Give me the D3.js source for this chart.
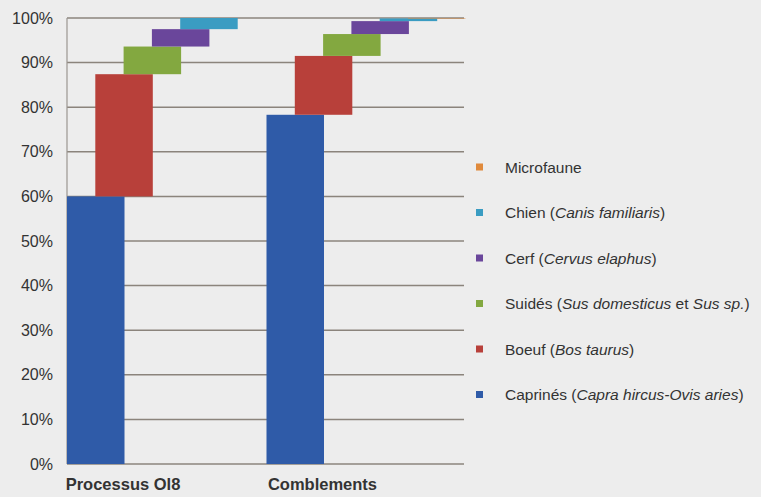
<!DOCTYPE html>
<html>
<head>
<meta charset="utf-8">
<script src="https://cdn.jsdelivr.net/npm/d3@7"></script>
<style>
  body { margin: 0; background: #ededed; }
  svg { display: block; font-family: "Liberation Sans", Arial, sans-serif; }
</style>
</head>
<body>
<div id="chart"></div>
<script>
// categories and series
const categories = ["Processus Ol8", "Comblements"];
const series = ["Caprinés", "Boeuf", "Suidés", "Cerf", "Chien", "Microfaune"];
const colors = ["#2f5ba8", "#b8403a", "#83a840", "#6a469b", "#3a9cc2", "#e08a3c"];

// share of each taxon (fraction), per category
const caprines   = [0.600, 0.783];
const boeuf      = [0.274, 0.132];
const suides     = [0.062, 0.049];
const cerf       = [0.039, 0.029];
const chien      = [0.025, 0.006];
const microfaune = [0.000, 0.001];

const yTicks = [0, 0.1, 0.2, 0.3, 0.4, 0.5, 0.6, 0.7, 0.8, 0.9, 1];

// legend labels: [normal, italic, normal, italic, ...]
const legendLabels = [
  ["Microfaune"],
  ["Chien (", "Canis familiaris", ")"],
  ["Cerf (", "Cervus elaphus", ")"],
  ["Suidés (", "Sus domesticus", " et ", "Sus sp.", ")"],
  ["Boeuf (", "Bos taurus", ")"],
  ["Caprinés (", "Capra hircus-Ovis aries", ")"]
];

const values = [caprines, boeuf, suides, cerf, chien, microfaune];

const width = 761, height = 497;
const plot = {left: 67, right: 464, top: 18, bottom: 464};
const barW = 57.5, shift = 28.3;

const svg = d3.select("#chart")
  .append("svg")
    .attr("width", width)
    .attr("height", height);

const x = d3.scaleBand()
  .domain(categories)
  .range([plot.left, plot.left + 2 * 199.5])
  .padding(0);

const y = d3.scaleLinear()
  .domain([0, 1])
  .range([plot.bottom, plot.top]);

// gridlines
svg.append("g")
  .selectAll("line")
  .data(yTicks)
  .join("line")
    .attr("x1", plot.left)
    .attr("x2", plot.right)
    .attr("y1", d => y(d))
    .attr("y2", d => y(d))
    .attr("stroke", "#8b847c")
    .attr("stroke-width", 1.5);

// left axis line
svg.append("line")
  .attr("x1", plot.left).attr("x2", plot.left)
  .attr("y1", plot.top).attr("y2", plot.bottom)
  .attr("stroke", "#9a9590")
  .attr("stroke-width", 1.2);

// y tick labels
svg.append("g")
  .selectAll("text")
  .data(yTicks)
  .join("text")
    .attr("x", 53)
    .attr("y", d => y(d) + 5.5)
    .attr("text-anchor", "end")
    .attr("font-size", 16)
    .attr("fill", "#333")
    .text(d => d3.format(".0%")(d));

// stacked segments, each series shifted to the right
const segs = [];
categories.forEach((c, ci) => {
  let base = 0;
  series.forEach((s, si) => {
    const v = values[si][ci];
    segs.push({cat: c, si: si, y0: base, y1: base + v});
    base += v;
  });
});

svg.append("g")
  .selectAll("rect")
  .data(segs)
  .join("rect")
    .attr("x", d => x(d.cat) + d.si * shift)
    .attr("y", d => y(d.y1))
    .attr("width", barW)
    .attr("height", d => Math.max(y(d.y0) - y(d.y1), 0))
    .attr("fill", d => colors[d.si]);

// category labels
svg.append("g")
  .selectAll("text")
  .data(categories)
  .join("text")
    .attr("x", d => x(d) + 56)
    .attr("y", 490)
    .attr("text-anchor", "middle")
    .attr("font-size", 16.5)
    .attr("font-weight", "bold")
    .attr("fill", "#333")
    .text(d => d);

// legend
const legendOrder = [5, 4, 3, 2, 1, 0];
const legend = svg.append("g")
  .selectAll("g")
  .data(legendLabels)
  .join("g")
    .attr("transform", (d, i) => `translate(476, ${167 + i * 45.5})`);

legend.append("rect")
  .attr("x", 0).attr("y", -3.5)
  .attr("width", 7).attr("height", 7)
  .attr("fill", (d, i) => colors[legendOrder[i]]);

legend.append("text")
  .attr("x", 29)
  .attr("y", 5.5)
  .attr("font-size", 15.5)
  .attr("fill", "#333")
  .selectAll("tspan")
  .data(d => d)
  .join("tspan")
    .attr("font-style", (d, i) => i % 2 === 1 ? "italic" : "normal")
    .text(d => d);
</script>
</body>
</html>
